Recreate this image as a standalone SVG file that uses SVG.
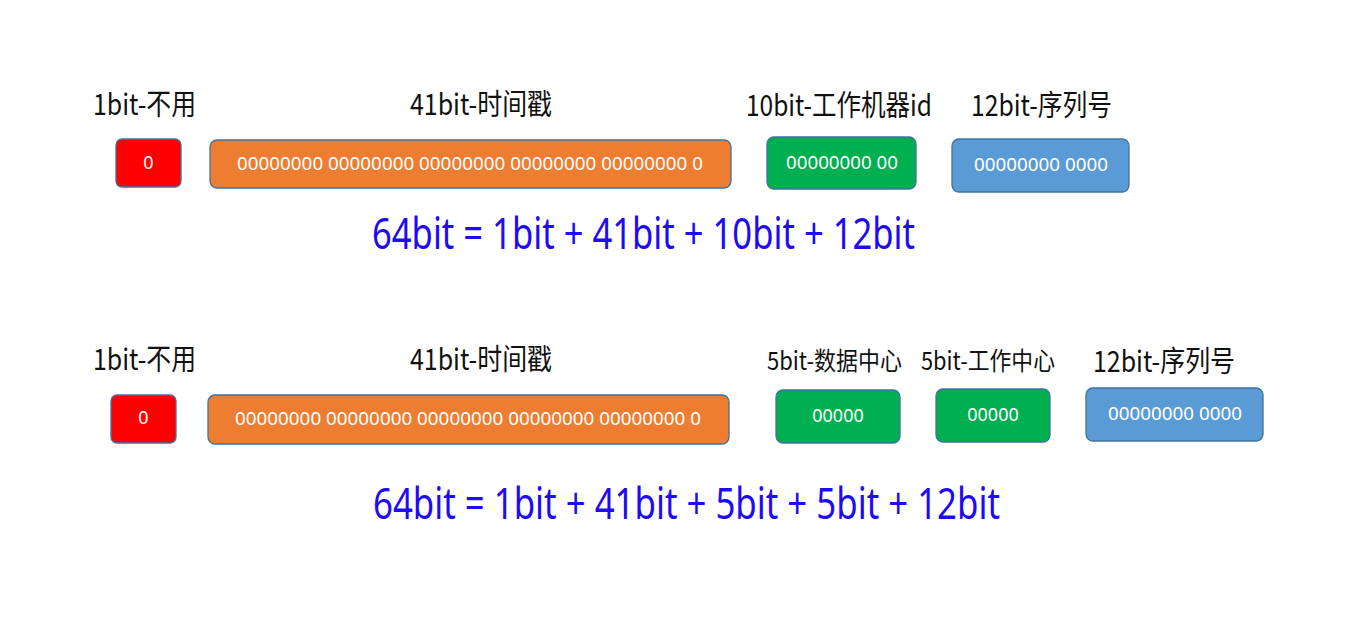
<svg xmlns="http://www.w3.org/2000/svg" width="1363" height="626" viewBox="0 0 1363 626">
<style>
.lbl{font-family:"Microsoft YaHei","Noto Sans CJK SC","Noto Sans",sans-serif;fill:#111;text-anchor:middle}
.box{stroke:#41719C;stroke-width:1.3}
.bt{font-family:"Noto Sans","Noto Sans CJK SC",sans-serif;fill:#fff;text-anchor:middle;font-size:18px}
.eq{font-family:"Noto Sans","Noto Sans CJK SC",sans-serif;fill:#1E0AF5;font-size:43px}
.red{fill:#FF0000}.org{fill:#ED7D31}.grn{fill:#00B050}.blu{fill:#5B9BD5}
</style>
<rect width="1363" height="626" fill="#fff"/>
<g id="row1">
<g id="r1-sign"><text class="lbl" x="144.5" y="115" font-size="29" textLength="103" lengthAdjust="spacingAndGlyphs">1bit-不用</text><rect class="box red" x="116" y="139" width="65" height="48" rx="6"/><text class="bt" x="148.5" y="169">0</text></g>
<g id="r1-ts"><text class="lbl" x="481" y="115" font-size="29" textLength="142" lengthAdjust="spacingAndGlyphs">41bit-时间戳</text><rect class="box org" x="210" y="140" width="521" height="48" rx="7"/><text class="bt" x="470" y="170" textLength="466" lengthAdjust="spacingAndGlyphs">00000000 00000000 00000000 00000000 00000000 0</text></g>
<g id="r1-mid"><text class="lbl" x="839" y="116" font-size="29" textLength="186" lengthAdjust="spacingAndGlyphs">10bit-工作机器id</text><rect class="box grn" x="767" y="137" width="149" height="52" rx="7"/><text class="bt" x="842" y="169" textLength="112" lengthAdjust="spacingAndGlyphs">00000000 00</text></g>
<g id="r1-seq"><text class="lbl" x="1041.5" y="116" font-size="29" textLength="141" lengthAdjust="spacingAndGlyphs">12bit-序列号</text><rect class="box blu" x="952" y="139" width="177" height="53" rx="7"/><text class="bt" x="1041" y="171" textLength="134" lengthAdjust="spacingAndGlyphs">00000000 0000</text></g>
<text id="eq1" class="eq" x="372" y="249" textLength="543" lengthAdjust="spacingAndGlyphs">64bit = 1bit + 41bit + 10bit + 12bit</text>
</g>
<g id="row2">
<g id="r2-sign"><text class="lbl" x="144.5" y="370" font-size="29" textLength="103" lengthAdjust="spacingAndGlyphs">1bit-不用</text><rect class="box red" x="111" y="395" width="65" height="48" rx="6"/><text class="bt" x="143.5" y="424">0</text></g>
<g id="r2-ts"><text class="lbl" x="481" y="370" font-size="29" textLength="142" lengthAdjust="spacingAndGlyphs">41bit-时间戳</text><rect class="box org" x="208" y="395" width="521" height="49" rx="7"/><text class="bt" x="468" y="425" textLength="466" lengthAdjust="spacingAndGlyphs">00000000 00000000 00000000 00000000 00000000 0</text></g>
<g id="r2-dc"><text class="lbl" x="834.5" y="370" font-size="25" textLength="135" lengthAdjust="spacingAndGlyphs">5bit-数据中心</text><rect class="box grn" x="776" y="390" width="124" height="53" rx="7"/><text class="bt" x="838" y="422">00000</text></g>
<g id="r2-wc"><text class="lbl" x="988" y="370" font-size="25" textLength="134" lengthAdjust="spacingAndGlyphs">5bit-工作中心</text><rect class="box grn" x="936" y="389" width="114" height="53" rx="7"/><text class="bt" x="993" y="421">00000</text></g>
<g id="r2-seq"><text class="lbl" x="1164" y="372" font-size="29" textLength="142" lengthAdjust="spacingAndGlyphs">12bit-序列号</text><rect class="box blu" x="1086" y="388" width="177" height="53" rx="7"/><text class="bt" x="1175" y="420" textLength="134" lengthAdjust="spacingAndGlyphs">00000000 0000</text></g>
<text id="eq2" class="eq" x="373" y="519" textLength="627" lengthAdjust="spacingAndGlyphs">64bit = 1bit + 41bit + 5bit + 5bit + 12bit</text>
</g>
<g id="connectors"></g>
</svg>
